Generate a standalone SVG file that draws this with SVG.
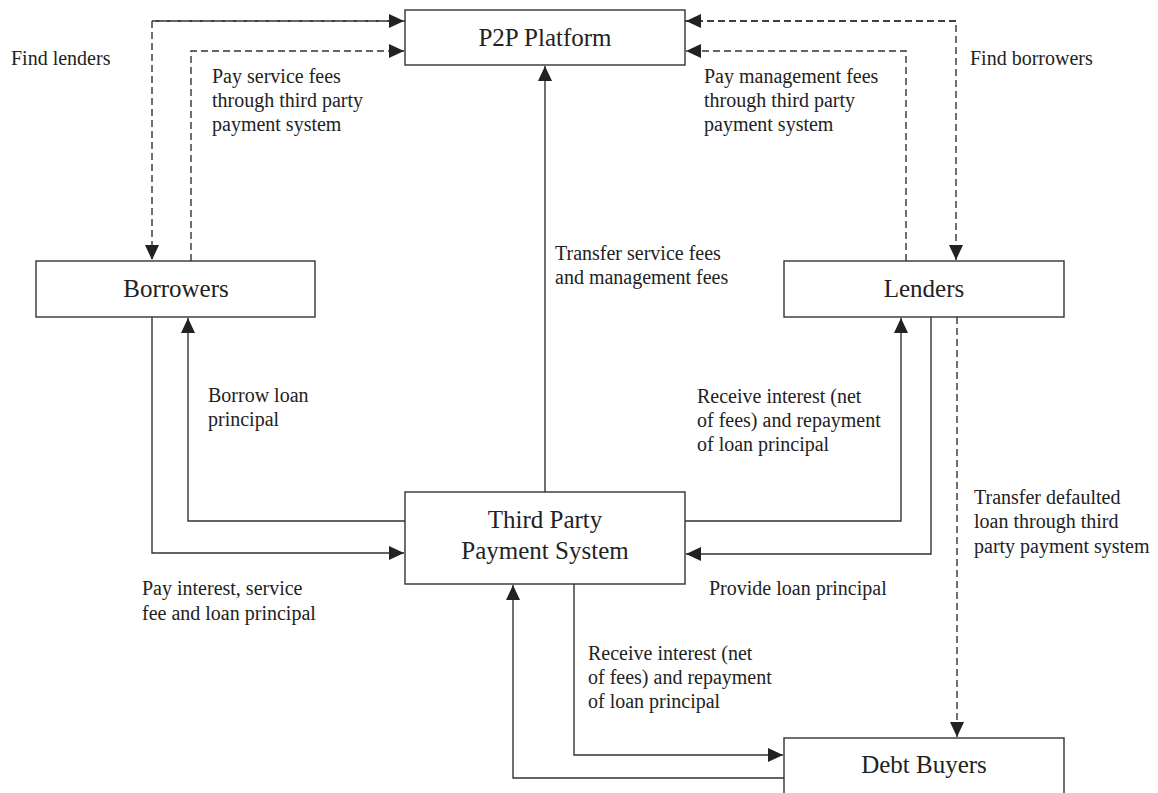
<svg xmlns="http://www.w3.org/2000/svg" width="1158" height="793" viewBox="0 0 1158 793">
<style>
.box{fill:#fff;stroke:#333;stroke-width:1.4}
.node{font-family:"Liberation Serif","Times New Roman",serif;font-size:25px;fill:#222;text-anchor:middle}
.lbl{font-family:"Liberation Serif","Times New Roman",serif;font-size:20px;fill:#222}
.c{fill:none;stroke:#333;stroke-width:1.4}
.d{stroke-dasharray:7,4}
</style>
<defs>
<marker id="ah" viewBox="0 0 15 14" refX="15" refY="7" markerWidth="15" markerHeight="14" markerUnits="userSpaceOnUse" orient="auto">
<path d="M0,0 L15,7 L0,14 Z" fill="#222"/>
</marker>
</defs>
<rect width="1158" height="793" fill="#fff"/>
<g id="connectors">
<path class="c d" d="M405,21 L152,21 L152,260" marker-end="url(#ah)"/>
<path class="c d" d="M152,21 L404,21" marker-end="url(#ah)"/>
<path class="c d" d="M191,261 L191,51 L404,51" marker-end="url(#ah)"/>
<path class="c d" d="M685,21 L956,21 L956,260" marker-end="url(#ah)"/>
<path class="c d" d="M956,21 L686,21" marker-end="url(#ah)"/>
<path class="c d" d="M906,261 L906,51 L686,51" marker-end="url(#ah)"/>
<path class="c" d="M545,492 L545,66" marker-end="url(#ah)"/>
<path class="c" d="M152,317 L152,553 L404,553" marker-end="url(#ah)"/>
<path class="c" d="M405,521 L188,521 L188,318" marker-end="url(#ah)"/>
<path class="c" d="M685,521 L901,521 L901,318" marker-end="url(#ah)"/>
<path class="c" d="M931,317 L931,554 L686,554" marker-end="url(#ah)"/>
<path class="c d" d="M957,317 L957,737" marker-end="url(#ah)"/>
<path class="c" d="M574,584 L574,755 L783,755" marker-end="url(#ah)"/>
<path class="c" d="M784,778 L513,778 L513,585" marker-end="url(#ah)"/>
</g>
<g id="p2p">
<rect class="box" x="405" y="10" width="280" height="55"/>
<text class="node" x="545" y="46">P2P Platform</text>
</g>
<g id="borrowers">
<rect class="box" x="36" y="261" width="279" height="56"/>
<text class="node" x="176" y="297">Borrowers</text>
</g>
<g id="lenders">
<rect class="box" x="784" y="261" width="280" height="56"/>
<text class="node" x="924" y="297">Lenders</text>
</g>
<g id="tpps">
<rect class="box" x="405" y="492" width="280" height="92"/>
<text class="node" x="545" y="528">Third Party</text>
<text class="node" x="545" y="559">Payment System</text>
</g>
<g id="debtbuyers">
<rect class="box" x="784" y="738" width="280" height="70"/>
<text class="node" x="924" y="773">Debt Buyers</text>
</g>
<g id="labels">
<text class="lbl" x="11" y="65">Find lenders</text>
<text class="lbl" x="970" y="65">Find borrowers</text>
<text class="lbl" x="212" y="83">Pay service fees</text>
<text class="lbl" x="212" y="107">through third party</text>
<text class="lbl" x="212" y="131">payment system</text>
<text class="lbl" x="704" y="83">Pay management fees</text>
<text class="lbl" x="704" y="107">through third party</text>
<text class="lbl" x="704" y="131">payment system</text>
<text class="lbl" x="555" y="260">Transfer service fees</text>
<text class="lbl" x="555" y="284">and management fees</text>
<text class="lbl" x="208" y="402">Borrow loan</text>
<text class="lbl" x="208" y="426">principal</text>
<text class="lbl" x="697" y="403">Receive interest (net</text>
<text class="lbl" x="697" y="427">of fees) and repayment</text>
<text class="lbl" x="697" y="451">of loan principal</text>
<text class="lbl" x="974" y="504">Transfer defaulted</text>
<text class="lbl" x="974" y="528">loan through third</text>
<text class="lbl" x="974" y="553">party payment system</text>
<text class="lbl" x="142" y="595">Pay interest, service</text>
<text class="lbl" x="142" y="620">fee and loan principal</text>
<text class="lbl" x="709" y="595">Provide loan principal</text>
<text class="lbl" x="588" y="660">Receive interest (net</text>
<text class="lbl" x="588" y="684">of fees) and repayment</text>
<text class="lbl" x="588" y="708">of loan principal</text>
</g>
</svg>
